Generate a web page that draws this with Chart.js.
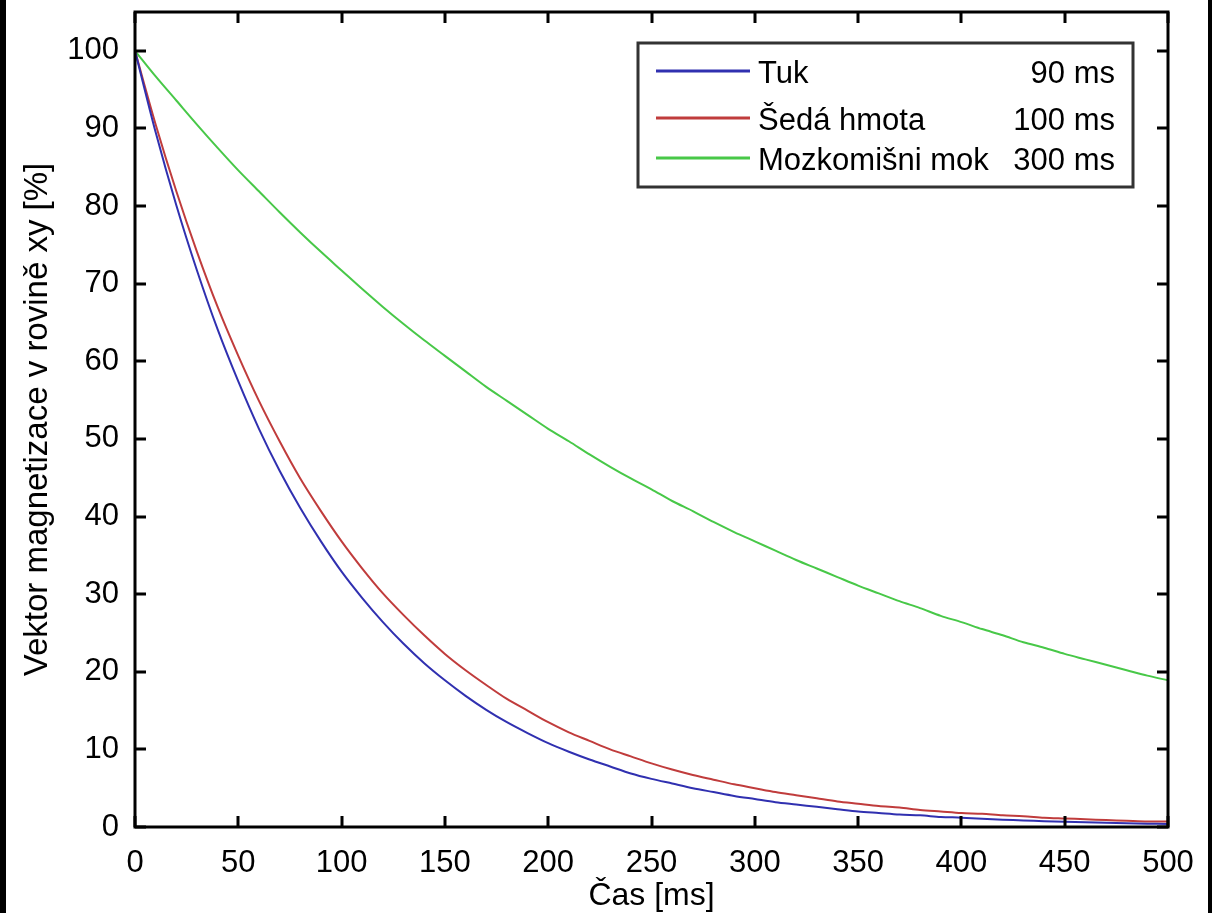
<!DOCTYPE html>
<html>
<head>
<meta charset="utf-8">
<script src="https://cdn.jsdelivr.net/npm/chart.js@4"></script>
<style>
  html, body { margin: 0; padding: 0; background: #fff; }
  #wrap { position: relative; width: 1212px; height: 913px; }
  .edge { position: absolute; top: 0; height: 913px; background: #000; }
</style>
</head>
<body>
<div id="wrap">
  <canvas id="chart" width="1212" height="913"></canvas>
  <div class="edge" style="left:0;width:6px"></div>
  <div class="edge" style="left:1208px;width:4px"></div>
</div>
<script>
// cas v ms
const times = [0, 10, 20, 30, 40, 50, 60, 70, 80, 90, 100, 110, 120, 130, 140, 150, 160, 170, 180, 190, 200,
  210, 220, 230, 240, 250, 260, 270, 280, 290, 300, 310, 320, 330, 340, 350, 360, 370, 380, 390, 400,
  410, 420, 430, 440, 450, 460, 470, 480, 490, 500];

const tuk = [100, 89.5, 80.1, 71.7, 64.1, 57.4, 51.3, 45.9, 41.1, 36.8, 32.9, 29.5, 26.4, 23.6, 21.1, 18.9,
  16.9, 15.1, 13.5, 12.1, 10.8, 9.7, 8.7, 7.8, 6.9, 6.2, 5.6, 5.0, 4.5, 4.0, 3.6, 3.2, 2.9, 2.6, 2.3, 2.0,
  1.8, 1.6, 1.5, 1.3, 1.2, 1.05, 0.94, 0.84, 0.75, 0.67, 0.6, 0.54, 0.48, 0.43, 0.39];

const sedaHmota = [100, 90.5, 81.9, 74.1, 67.0, 60.7, 54.9, 49.7, 44.9, 40.7, 36.8, 33.3, 30.1, 27.3, 24.7, 22.3,
  20.2, 18.3, 16.5, 15.0, 13.5, 12.2, 11.1, 10.0, 9.1, 8.2, 7.4, 6.7, 6.1, 5.5, 5.0, 4.5, 4.1, 3.7, 3.3, 3.0,
  2.7, 2.5, 2.2, 2.0, 1.8, 1.7, 1.5, 1.4, 1.2, 1.1, 1.0, 0.9, 0.8, 0.7, 0.7];

const mozkomisniMok = [100, 96.7, 93.6, 90.5, 87.5, 84.6, 81.9, 79.2, 76.6, 74.1, 71.7, 69.3, 67.0, 64.8, 62.7, 60.7,
  58.7, 56.7, 54.9, 53.1, 51.3, 49.7, 48.0, 46.4, 44.9, 43.5, 42.0, 40.7, 39.3, 38.0, 36.8, 35.6, 34.4, 33.3,
  32.2, 31.1, 30.1, 29.1, 28.2, 27.2, 26.4, 25.5, 24.7, 23.8, 23.1, 22.3, 21.6, 20.9, 20.2, 19.5, 18.9];

const seriesNames = ['Tuk', 'Šedá hmota', 'Mozkomišni mok'];
const t2Labels = ['90 ms', '100 ms', '300 ms'];
const seriesColors = ['#3030b0', '#c03c3c', '#48c848'];

const xTicks = [0, 50, 100, 150, 200, 250, 300, 350, 400, 450, 500];
const yTicks = [0, 10, 20, 30, 40, 50, 60, 70, 80, 90, 100];

const FONT = 'Arial, "Liberation Sans", sans-serif';

function toPoints(values) {
    return values.map(function (v, i) { return { x: times[i], y: v }; });
}

// ramecek, tiky dovnitr a legenda jako v matlabu
const matlabBox = {
    id: 'matlabBox',
    afterDatasetsDraw: function (chart) {
        const ctx = chart.ctx;
        const a = chart.chartArea;
        const xs = chart.scales.x;
        const ys = chart.scales.y;
        ctx.save();
        ctx.strokeStyle = '#000';
        ctx.lineWidth = 3;
        ctx.strokeRect(a.left, a.top, a.right - a.left, a.bottom - a.top);

        ctx.lineWidth = 3;
        ctx.beginPath();
        xTicks.forEach(function (t) {
            const px = Math.round(xs.getPixelForValue(t));
            ctx.moveTo(px, a.bottom); ctx.lineTo(px, a.bottom - 11);
            ctx.moveTo(px, a.top); ctx.lineTo(px, a.top + 11);
        });
        yTicks.forEach(function (t) {
            const py = Math.round(ys.getPixelForValue(t));
            ctx.moveTo(a.left, py); ctx.lineTo(a.left + 11, py);
            ctx.moveTo(a.right, py); ctx.lineTo(a.right - 11, py);
        });
        ctx.stroke();

        // legenda
        const lx = 638, ly = 43, lw = 495, lh = 144;
        ctx.fillStyle = '#fff';
        ctx.fillRect(lx, ly, lw, lh);
        ctx.strokeStyle = '#333';
        ctx.lineWidth = 3;
        ctx.strokeRect(lx, ly, lw, lh);

        const rows = [71, 118, 158];
        ctx.font = '31px ' + FONT;
        ctx.textBaseline = 'middle';
        seriesNames.forEach(function (name, i) {
            ctx.strokeStyle = seriesColors[i];
            ctx.lineWidth = 3;
            ctx.beginPath();
            ctx.moveTo(656, rows[i]);
            ctx.lineTo(750, rows[i]);
            ctx.stroke();
            ctx.fillStyle = '#000';
            ctx.textAlign = 'left';
            ctx.fillText(name, 758, rows[i] + 3);
            ctx.textAlign = 'right';
            ctx.fillText(t2Labels[i], 1115, rows[i] + 3);
        });
        ctx.restore();
    }
};

const ctx = document.getElementById('chart').getContext('2d');

new Chart(ctx, {
    type: 'line',
    data: {
        datasets: [
            { label: seriesNames[0], data: toPoints(tuk), borderColor: seriesColors[0], borderWidth: 2, pointRadius: 0, tension: 0.3, fill: false },
            { label: seriesNames[1], data: toPoints(sedaHmota), borderColor: seriesColors[1], borderWidth: 2, pointRadius: 0, tension: 0.3, fill: false },
            { label: seriesNames[2], data: toPoints(mozkomisniMok), borderColor: seriesColors[2], borderWidth: 2, pointRadius: 0, tension: 0.3, fill: false }
        ]
    },
    options: {
        responsive: false,
        animation: false,
        layout: { padding: { top: 12, right: 44, left: 0, bottom: 0 } },
        plugins: {
            legend: { display: false },
            tooltip: { enabled: false }
        },
        scales: {
            x: {
                type: 'linear',
                min: 0,
                max: 500,
                grid: { display: false },
                border: { display: false },
                afterBuildTicks: function (scale) {
                    scale.ticks = xTicks.map(function (v) { return { value: v }; });
                },
                afterFit: function (scale) {
                    scale.height = 86;
                    scale.paddingLeft = 0;
                    scale.paddingRight = 0;
                },
                ticks: { color: '#000', padding: 10, maxRotation: 0, font: { size: 31, family: FONT } },
                title: {
                    display: true,
                    text: 'Čas [ms]',
                    color: '#000',
                    font: { size: 32, family: FONT, lineHeight: 1.2 },
                    padding: { top: 0, bottom: -2 }
                }
            },
            y: {
                min: 0,
                max: 105,
                grid: { display: false },
                border: { display: false },
                afterBuildTicks: function (scale) {
                    scale.ticks = yTicks.map(function (v) { return { value: v }; });
                },
                afterFit: function (scale) {
                    scale.width = 135;
                    scale.paddingTop = 0;
                    scale.paddingBottom = 0;
                },
                ticks: { color: '#000', padding: 8, font: { size: 31, family: FONT } },
                title: {
                    display: true,
                    text: 'Vektor magnetizace v rovině xy [%]',
                    color: '#000',
                    font: { size: 33, family: FONT, lineHeight: 1.2 },
                    padding: { top: 18, bottom: 0 }
                }
            }
        }
    },
    plugins: [matlabBox]
});
</script>
</body>
</html>
